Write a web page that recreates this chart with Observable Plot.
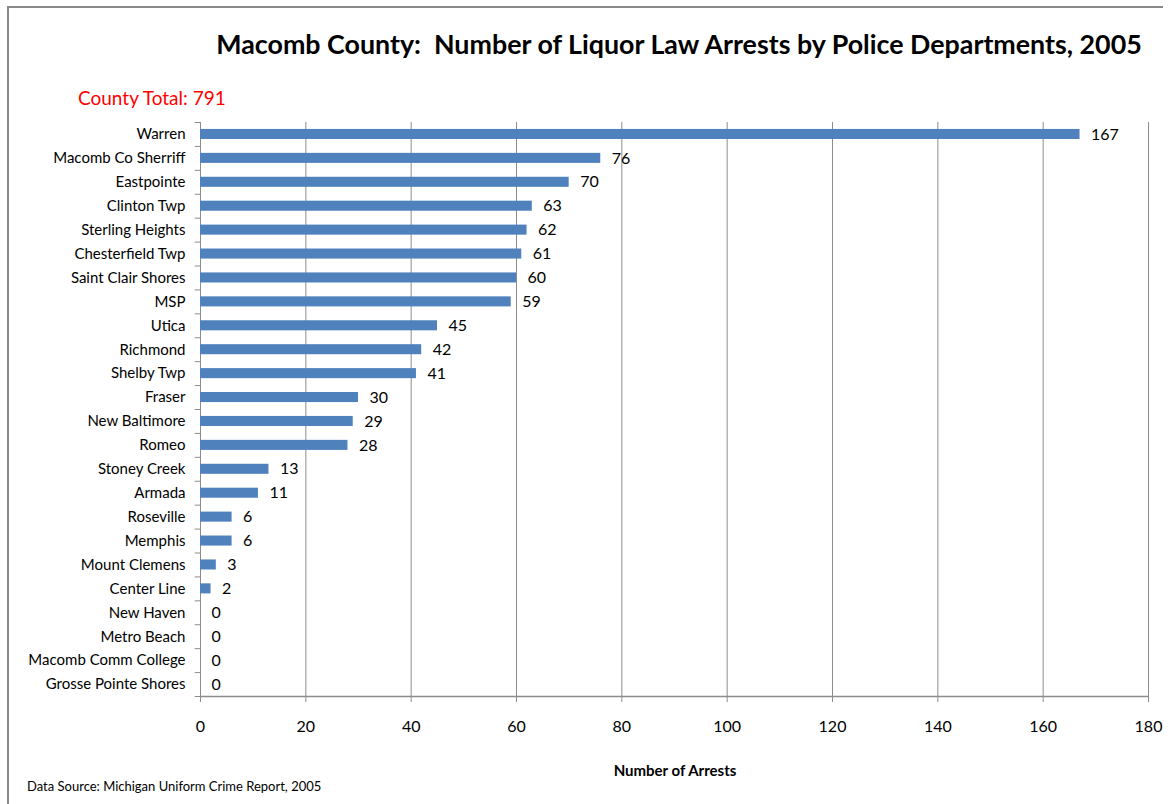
<!DOCTYPE html>
<html>
<head>
<meta charset="utf-8">
<script src="https://cdn.jsdelivr.net/npm/d3@7"></script>
<script src="https://cdn.jsdelivr.net/npm/@observablehq/plot@0.6"></script>
<style>
  html, body { margin: 0; padding: 0; background: #fff; }
  #wrap { position: relative; width: 1173px; height: 804px; overflow: hidden; font-family: Lato, "Open Sans", sans-serif; }
  #wrap svg { position: absolute; left: 0; top: 0; }
  .t { position: absolute; line-height: 1; white-space: pre; }
  #border { position: absolute; left: 7px; top: 6px; width: 1156px; height: 810px; border-left: 2px solid #8a8a8a; border-top: 2px solid #8a8a8a; box-sizing: border-box; }
</style>
</head>
<body>
<div id="wrap">
  <div id="border"></div>
</div>
<script>
const departments = ["Warren","Macomb Co Sherriff","Eastpointe","Clinton Twp","Sterling Heights","Chesterfield Twp","Saint Clair Shores","MSP","Utica","Richmond","Shelby Twp","Fraser","New Baltimore","Romeo","Stoney Creek","Armada","Roseville","Memphis","Mount Clemens","Center Line","New Haven","Metro Beach","Macomb Comm College","Grosse Pointe Shores"];
const arrests = [167,76,70,63,62,61,60,59,45,42,41,30,29,28,13,11,6,6,3,2,0,0,0,0];
const xTicks = [0,20,40,60,80,100,120,140,160,180];
const titleText = "Macomb County:  Number of Liquor Law Arrests by Police Departments, 2005";
const subtitleText = "County Total: 791";
const xLabelText = "Number of Arrests";
const captionText = "Data Source: Michigan Uniform Crime Report, 2005";

const data = departments.map((name, i) => ({name, value: arrests[i]}));

const W = 1173, H = 804, mL = 200, mR = 25, mT = 122, mB = 108;
const step = (H - mT - mB) / departments.length;
const gridColor = "#8c8c8c";
const font = "Lato, 'Open Sans', sans-serif";

const chart = Plot.plot({
  width: W, height: H,
  marginLeft: mL, marginRight: mR, marginTop: mT, marginBottom: mB,
  style: {fontFamily: font, background: "transparent", color: "#000"},
  x: {domain: [0, 180], ticks: xTicks},
  y: {domain: departments, paddingInner: 0.58, paddingOuter: 0.29, round: false},
  marks: [
    Plot.ruleX(xTicks, {x: d => d, stroke: gridColor, strokeWidth: 1}),
    Plot.ruleY([departments[departments.length - 1]], {y: d => d, x1: 0, x2: 180, dy: step / 2, stroke: gridColor, strokeWidth: 1.5}),
    Plot.ruleY(departments, {y: d => d, x1: -1, x2: 0, dy: -step / 2, stroke: gridColor}),
    Plot.ruleY([departments[departments.length - 1]], {y: d => d, x1: -1, x2: 0, dy: step / 2, stroke: gridColor}),
    Plot.barX(data, {x: "value", y: "name", fill: "#4F81BD"}),
    Plot.text(data, {x: "value", y: "name", text: d => String(d.value), textAnchor: "start", dx: 11, fontSize: 16, fill: "#000"}),
    Plot.axisY({tickSize: 0, tickPadding: 15, fontSize: 15, label: null}),
    Plot.axisX(xTicks, {tickSize: 6, tickPadding: 18, fontSize: 16, label: null, stroke: gridColor, tickFormat: d => String(d)})
  ]
});

const wrap = document.getElementById("wrap");
wrap.appendChild(chart);

function addText(txt, css) {
  const d = document.createElement("div");
  d.className = "t";
  d.textContent = txt;
  Object.assign(d.style, css);
  wrap.appendChild(d);
  return d;
}
addText(titleText, {left: "679px", top: "31px", transform: "translateX(-50%)", fontSize: "26.8px", fontWeight: "bold", color: "#000"});
addText(subtitleText, {left: "78px", top: "88px", fontSize: "19px", color: "#ff0000"});
addText(xLabelText, {left: "675px", top: "763px", transform: "translateX(-50%)", fontSize: "15px", fontWeight: "bold", color: "#000"});
addText(captionText, {left: "27px", top: "780px", fontSize: "13px", color: "#000"});
</script>
</body>
</html>
